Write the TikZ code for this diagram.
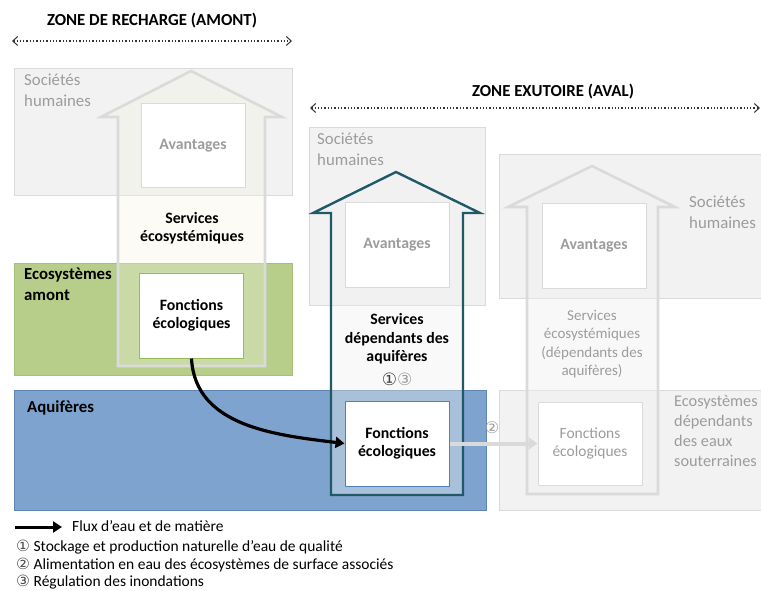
\documentclass[tikz,border=0pt]{standalone}
\usepackage{fontspec}
\setmainfont{Carlito}
\newfontfamily\circfont{DejaVu Sans}
\usepackage{tikz}
\usetikzlibrary{arrows.meta}
\usetikzlibrary{positioning}
\definecolor{socfill}{HTML}{F2F2F2}
\definecolor{socline}{HTML}{DADADA}
\definecolor{greytxt}{HTML}{9C9C9C}
\definecolor{ecofill}{HTML}{B6CE8A}
\definecolor{ecoline}{HTML}{A5C177}
\definecolor{aqfill}{HTML}{7FA3CF}
\definecolor{aqline}{HTML}{5F84B6}
\definecolor{teal}{HTML}{215968}
\definecolor{fctgreen}{HTML}{9BBB59}
\definecolor{fctblue}{HTML}{4F81BD}

\begin{document}
\begin{tikzpicture}[x=1pt, y=-1pt, font=\fontsize{15.5}{19.5}\selectfont,
    soc/.style={draw=socline, fill=socfill, line width=1pt},
    inbox/.style={draw=socline, fill=white, line width=1pt, minimum width=104pt, minimum height=84pt, align=center, inner sep=0pt},
    bigtxt/.style={font=\fontsize{16.8}{20.5}\selectfont},
    bigbold/.style={font=\fontsize{16.8}{20.5}\selectfont\bfseries},
    boldtxt/.style={font=\fontsize{15.8}{18.5}\selectfont\bfseries},
    zone/.style={dotted, line width=1.3pt, draw=black!80, {Straight Barb[length=5pt,width=9pt,line width=1pt]}-{Straight Barb[length=5pt,width=9pt,line width=1pt]}},
    lbl/.style={anchor=north west, align=left, inner sep=0pt}]
        \useasboundingbox (0,0) rectangle (761,591);
        % Zone titles
        \node[bigbold] (recharge) at (152,21) {ZONE DE RECHARGE (AMONT)};
        \coordinate (rechW) at (12,41);
        \coordinate (rechE) at (292,41);
        \draw[zone] (rechW) -- (rechE);
        \node[bigbold] (exutoire) at (553,92) {ZONE EXUTOIRE (AVAL)};
        \coordinate (exuW) at (310,108);
        \coordinate (exuE) at (760,108);
        \draw[zone] (exuW) -- (exuE);
        % Background zones
        \draw[soc] (14,69) rectangle (292,196);
        \draw[soc] (309,128) rectangle (485,305);
        \draw[soc] (499,155) rectangle (770,298);
        \draw[soc] (499,390) rectangle (770,510);
        \draw[draw=ecoline, fill=ecofill, line width=1pt] (14,263) rectangle (292,375);
        \draw[draw=aqline, fill=aqfill, line width=1pt] (14,390) rectangle (486,510);
        % Service arrows
        \draw[draw=socline, line width=2.6pt, fill=black!12!olive!8!white, fill opacity=0.32, line join=miter]
          (118,366) -- (118,117) -- (101,117) -- (191,71) -- (282,117) -- (265,117) -- (265,366) -- cycle;
        \draw[draw=teal, line width=2.4pt, fill=blue!10!black!6!white, fill opacity=0.38, line join=miter]
          (331,495) -- (331,213) -- (313,213) -- (396,172) -- (480,213) -- (463,213) -- (463,495) -- cycle;
        \draw[draw=socline, line width=2.6pt, fill=blue!10!black!6!white, fill opacity=0.45, line join=miter]
          (527,494) -- (527,207) -- (508,207) -- (592,166) -- (675,207) -- (658,207) -- (658,494) -- cycle;
        % Zone labels
        \node[lbl, bigtxt, text=greytxt] (socLtxt) at (24,74) {Sociétés\\humaines};
        \node[lbl, bigtxt, text=greytxt] (socMtxt) at (317,133) {Sociétés\\humaines};
        \node[lbl, bigtxt, text=greytxt] (socRtxt) at (689,196) {Sociétés\\humaines};
        \node[lbl, bigbold] (ecoLtxt) at (24,268) {Ecosystèmes\\amont};
        \node[lbl, bigbold] (aqtxt) at (27,401) {Aquifères};
        \node[lbl, font=\fontsize{16.3}{20}\selectfont, text=greytxt] (ecoRtxt) at (674,395) {Ecosystèmes\\dépendants\\des eaux\\souterraines};
        % Avantages boxes
        \node[inbox, boldtxt, text=greytxt] (avL) at (193,146) {Avantages};
        \node[inbox, boldtxt, text=greytxt] (avM) at (397,245) {Avantages};
        \node[inbox, boldtxt, text=greytxt] (avR) at (594,246) {Avantages};
        % Fonctions boxes
        \node[inbox, draw=fctgreen, minimum height=85pt, boldtxt] (fctL) at (191.5,315.5) {Fonctions\\écologiques};
        \node[inbox, draw=fctblue, minimum height=85pt, boldtxt] (fctM) at (397,443.5) {Fonctions\\écologiques};
        \node[inbox, minimum height=83pt, text=greytxt, font=\fontsize{15.5}{18.5}\selectfont] (fctR) at (590,443.5) {Fonctions\\écologiques};
        % Services texts
        \node[align=center, boldtxt] (servL) at (192,228) {Services\\écosystémiques};
        \node[align=center, boldtxt] (servM) at (397,339) {Services\\dépendants des\\aquifères};
        \node[font=\fontsize{17}{17}\circfont] (numM) at (397,379) {\textcolor{black!75}{①}\textcolor{greytxt}{③}};
        \node[align=center, text=greytxt, font=\fontsize{15}{18.6}\selectfont] (servR) at (592,344) {Services\\écosystémiques\\(dépendants des\\aquifères)};
        % Flows
        \draw[line width=3.2pt, -{Triangle[length=9pt,width=11pt]}] (fctL.south) to[out=-87, in=173] (fctM.west);
        \draw[draw=socline, line width=4pt, -{Triangle[length=9pt,width=12pt]}] (fctM.east) -- (fctR.west);
        \node[text=greytxt, font=\fontsize{16}{17}\circfont] (num2) at (492,428) {②};
        % Legend
        \coordinate (legW) at (15,527);
        \coordinate (legE) at (62,527);
        \draw[line width=3pt, -{Triangle[length=9pt,width=11pt]}] (legW) -- (legE);
        \node[anchor=west, inner sep=0pt] (legflux) at (72,526) {Flux d’eau et de matière};
        \node[anchor=west, inner sep=0pt] (leg1) at (16,547) {{\circfont\color{black!70}①} Stockage et production naturelle d’eau de qualité};
        \node[anchor=west, inner sep=0pt] (leg2) at (16,565) {{\circfont\color{black!70}②} Alimentation en eau des écosystèmes de surface associés};
        \node[anchor=west, inner sep=0pt] (leg3) at (16,582) {{\circfont\color{black!70}③} Régulation des inondations};
      \end{tikzpicture}
\end{document}
